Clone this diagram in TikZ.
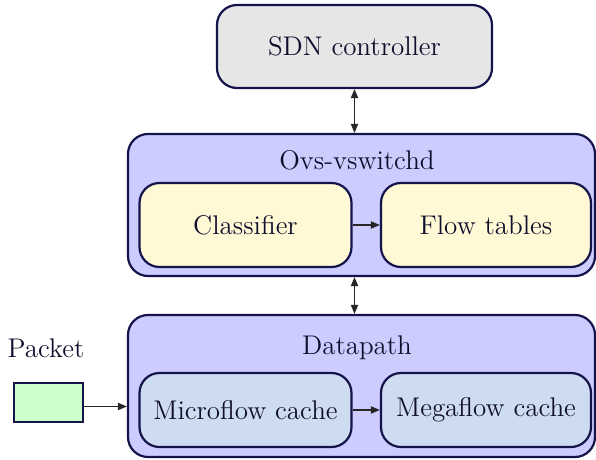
\documentclass[tikz,border=0pt]{standalone}
\usetikzlibrary{arrows.meta}
\definecolor{edgenavy}{RGB}{20,20,75}
\definecolor{txtnavy}{RGB}{15,15,45}
\definecolor{outerfill}{RGB}{204,204,255}
\definecolor{sdnfill}{RGB}{230,230,230}
\definecolor{yelfill}{RGB}{255,249,214}
\definecolor{bluefill}{RGB}{205,220,240}
\definecolor{pktfill}{RGB}{204,255,204}
\begin{document}
\begin{tikzpicture}[x=0.5pt,y=-0.5pt,
  every node/.style={font=\fontsize{13.5}{16}\selectfont, text=txtnavy},
  box/.style={draw=edgenavy, line width=1.1pt, rounded corners=10pt, inner sep=0pt},
  outerbox/.style={box, fill=outerfill, minimum width=233.5pt, minimum height=71pt},
  innerbox/.style={box, minimum width=106pt},
  conn/.style={draw=black!85, line width=0.6pt, -{Triangle[length=4.5pt,width=3.6pt]}},
  biconn/.style={draw=black!85, line width=0.6pt, {Triangle[length=4.5pt,width=3.6pt]}-{Triangle[length=4.5pt,width=3.6pt]}}
]
\useasboundingbox (0,0) rectangle (596,460);
% SDN controller
\node[box, fill=sdnfill, minimum width=137.5pt, minimum height=41.5pt] (sdn) at (354.5,46.5) {SDN controller};
% Ovs-vswitchd
\node[outerbox] (ovs) at (361.5,205) {};
\node (ovslabel) at (357,160) {Ovs-vswitchd};
\node[innerbox, fill=yelfill, minimum height=42pt] (cls) at (245.5,225) {Classifier};
\node[innerbox, fill=yelfill, minimum height=42pt, minimum width=105pt] (flow) at (486,225) {Flow tables};
% Datapath
\node[outerbox] (dp) at (361.5,386) {};
\node (dplabel) at (357,348) {Datapath};
\node[innerbox, fill=bluefill, minimum height=37pt] (micro) at (245.5,410) {Microflow cache};
\node[innerbox, fill=bluefill, minimum height=37pt, minimum width=105pt] (mega) at (486,410) {Megaflow cache};
% Packet
\node (pktlabel) at (46,348) {Packet};
\node[draw=edgenavy, line width=1.1pt, fill=pktfill, minimum width=34.5pt, minimum height=19.5pt, inner sep=0pt] (pkt) at (48.5,402.5) {};
% connectors
\draw[biconn] (sdn.south) -- (sdn.south |- ovs.north);
\draw[conn] (cls.east) -- (flow.west);
\draw[biconn] (ovs.south -| sdn.south) -- (dp.north -| sdn.south);
\coordinate (pktout) at ([yshift=-2pt]pkt.east);
\draw[conn] (pktout) -- (pktout -| dp.west);
\draw[conn] (micro.east) -- (mega.west);
\end{tikzpicture}
\end{document}
